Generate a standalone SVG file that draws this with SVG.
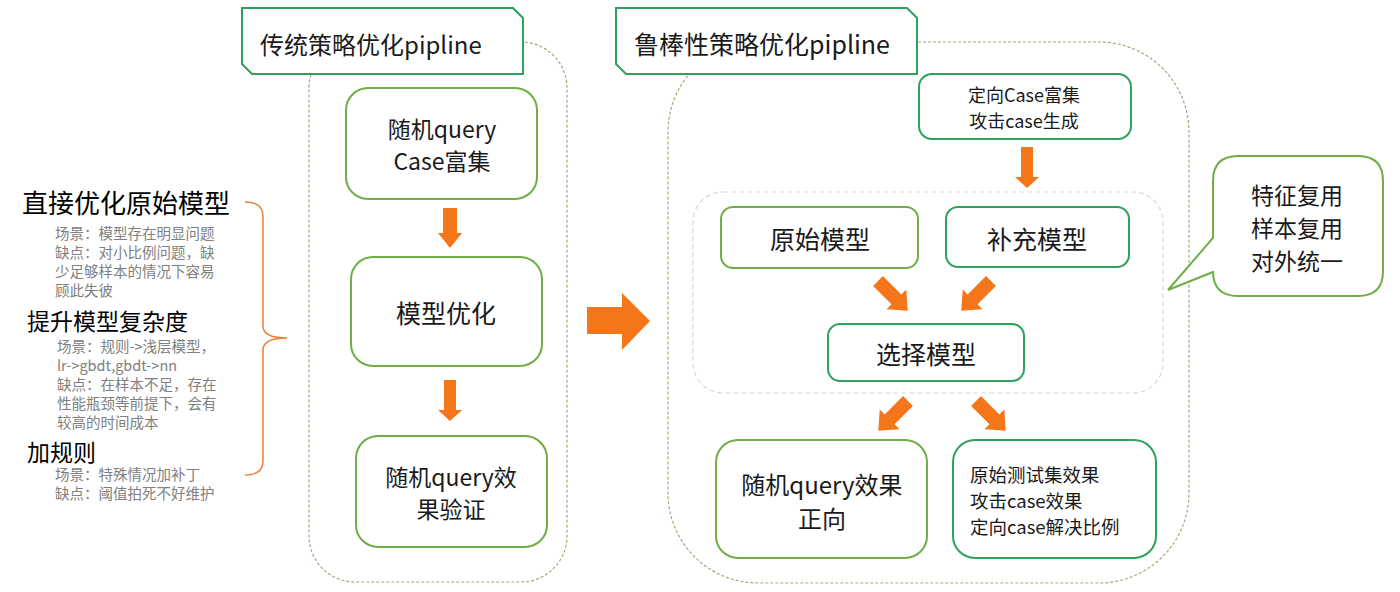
<svg xmlns="http://www.w3.org/2000/svg" width="1400" height="592" viewBox="0 0 1400 592">
<style>
.bg{fill:#ffffff}
.cont{fill:none;stroke:#9aae7c;stroke-width:1.2;stroke-dasharray:3 2}
.inner{fill:none;stroke:#d9d9d9;stroke-width:1.2;stroke-dasharray:5 3}
.olive{fill:#ffffff;stroke:#70ad47;stroke-width:2}
.teal{fill:#ffffff;stroke:#2ea15e;stroke-width:2}
.arrow{fill:#f5761a}
.t{font-family:"Noto Sans CJK SC","Noto Sans",sans-serif;fill:#1a1a1a;dominant-baseline:central}
.c{text-anchor:middle}
.gray{font-family:"Noto Sans CJK SC","Noto Sans",sans-serif;fill:#808080;font-size:14.5px;dominant-baseline:central}
.head{font-family:"Noto Sans CJK SC","Noto Sans",sans-serif;fill:#000000;dominant-baseline:central}
</style>
<defs>
<path id="diag" d="M-7,0 H7 V26 H14 L0,42 L-14,26 H-7 Z"/>
</defs>
<rect class="bg" x="0" y="0" width="1400" height="592"/>

<g id="left-notes">
<text class="head" x="22" y="201" font-size="26">直接优化原始模型</text>
<text class="gray" x="55" y="232"><tspan x="55" y="232">场景：模型存在明显问题</tspan><tspan x="55" y="251">缺点：对小比例问题，缺</tspan><tspan x="55" y="270">少足够样本的情况下容易</tspan><tspan x="55" y="289">顾此失彼</tspan></text>
<text class="head" x="27" y="320" font-size="23">提升模型复杂度</text>
<text class="gray" x="57" y="345"><tspan x="57" y="345">场景：规则-&gt;浅层模型，</tspan><tspan x="57" y="364">lr-&gt;gbdt,gbdt-&gt;nn</tspan><tspan x="57" y="383">缺点：在样本不足，存在</tspan><tspan x="57" y="402">性能瓶颈等前提下，会有</tspan><tspan x="57" y="421">较高的时间成本</tspan></text>
<text class="head" x="27" y="451" font-size="23">加规则</text>
<text class="gray" x="55" y="473"><tspan x="55" y="473">场景：特殊情况加补丁</tspan><tspan x="55" y="492">缺点：阈值拍死不好维护</tspan></text>
<path d="M245,202 Q263,202 263,216 L263,326 Q263,338 287,338 Q263,338 263,350 L263,461 Q263,475 245,475" fill="none" stroke="#ed7d31" stroke-width="1.5"/>
</g>

<g id="container-traditional">
<rect class="cont" x="309" y="42" width="258" height="540" rx="46"/>
</g>
<g id="container-robust">
<rect class="cont" x="668" y="42" width="521" height="541" rx="90"/>
<rect class="inner" x="693" y="192" width="470" height="201" rx="30"/>
</g>

<g id="title-traditional">
<polygon class="teal" points="242,8 513,8 523,18 523,74 252,74 242,64"/>
<text class="t" x="260" y="43" font-size="24">传统策略优化pipline</text>
</g>
<g id="title-robust">
<polygon class="teal" points="616,8 907,8 917,18 917,74 626,74 616,64"/>
<text class="t" x="634" y="43" font-size="25">鲁棒性策略优化pipline</text>
</g>

<g id="connectors">
<polygon class="arrow" points="443,208 457,208 457,233 462,233 450,248 438,233 443,233"/>
<polygon class="arrow" points="444,380 456,380 456,410 462,410 450,421 438,410 444,410"/>
<polygon class="arrow" points="587,307 622,307 622,293 650,321 622,350 622,334 587,334"/>
<polygon class="arrow" points="1021,147 1033,147 1033,177 1039,177 1027,188 1015,177 1021,177"/>
<use href="#diag" class="arrow" transform="translate(878,281) rotate(-45)"/>
<use href="#diag" class="arrow" transform="translate(991,281) rotate(45)"/>
<use href="#diag" class="arrow" transform="translate(908,401) rotate(45)"/>
<use href="#diag" class="arrow" transform="translate(976,401) rotate(-45)"/>
</g>

<g id="node-random-case">
<rect class="olive" x="346" y="88" width="191" height="111" rx="22"/>
<text class="t c" x="442" y="128" font-size="23"><tspan x="442" y="128">随机query</tspan><tspan x="442" y="160">Case富集</tspan></text>
</g>
<g id="node-model-opt">
<rect class="olive" x="351" y="257" width="191" height="109" rx="22"/>
<text class="t c" x="446" y="312" font-size="25">模型优化</text>
</g>
<g id="node-random-verify">
<rect class="olive" x="356" y="436" width="191" height="111" rx="22"/>
<text class="t c" x="451" y="476" font-size="23"><tspan x="451" y="476">随机query效</tspan><tspan x="451" y="508">果验证</tspan></text>
</g>

<g id="node-targeted-case">
<rect class="teal" x="919" y="74" width="212" height="65" rx="13"/>
<text class="t c" x="1024" y="94" font-size="18"><tspan x="1024" y="94">定向Case富集</tspan><tspan x="1024" y="120">攻击case生成</tspan></text>
</g>
<g id="node-original-model">
<rect class="olive" x="721" y="207" width="197" height="61" rx="12"/>
<text class="t c" x="820" y="238" font-size="25">原始模型</text>
</g>
<g id="node-supplement-model">
<rect class="teal" x="946" y="207" width="183" height="60" rx="12"/>
<text class="t c" x="1037" y="238" font-size="25">补充模型</text>
</g>
<g id="node-select-model">
<rect class="teal" x="828" y="324" width="196" height="57" rx="12"/>
<text class="t c" x="926" y="353" font-size="25">选择模型</text>
</g>
<g id="node-random-positive">
<rect class="olive" x="716" y="440" width="211" height="118" rx="22"/>
<text class="t c" x="822" y="483" font-size="24"><tspan x="822" y="483">随机query效果</tspan><tspan x="822" y="517">正向</tspan></text>
</g>
<g id="node-metrics">
<rect class="teal" x="953" y="440" width="203" height="118" rx="22"/>
<text class="t" x="970" y="474" font-size="18.5"><tspan x="970" y="474">原始测试集效果</tspan><tspan x="970" y="500">攻击case效果</tspan><tspan x="970" y="526">定向case解决比例</tspan></text>
</g>

<g id="callout">
<path d="M1238,156 H1358 Q1383,156 1383,181 V271 Q1383,296 1358,296 H1238 Q1213,296 1213,271 V272 L1168,290 L1213,238 V181 Q1213,156 1238,156 Z" fill="#ffffff" stroke="#70ad47" stroke-width="2"/>
<text class="t c" x="1297" y="194" font-size="23"><tspan x="1297" y="194">特征复用</tspan><tspan x="1297" y="227">样本复用</tspan><tspan x="1297" y="260">对外统一</tspan></text>
</g>
</svg>
